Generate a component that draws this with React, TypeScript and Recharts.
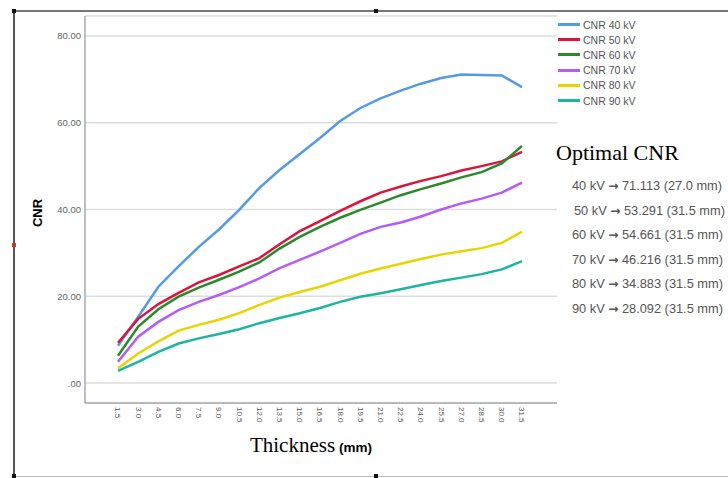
import React from 'react';
import { LineChart, Line, XAxis, YAxis, CartesianGrid } from 'recharts';

const thickness = [1.5, 3.0, 4.5, 6.0, 7.5, 9.0, 10.5, 12.0, 13.5, 15.0, 16.5, 18.0, 19.5, 21.0, 22.5, 24.0, 25.5, 27.0, 28.5, 30.0, 31.5];

const cnr40 = [8.6, 15.3, 22.2, 26.9, 31.4, 35.4, 39.9, 45.0, 49.1, 52.8, 56.5, 60.4, 63.4, 65.6, 67.4, 69.0, 70.3, 71.113, 71.0, 70.9, 68.2];
const cnr50 = [9.3, 14.8, 18.2, 20.8, 23.2, 24.9, 26.9, 28.8, 32.0, 35.0, 37.3, 39.7, 41.9, 43.9, 45.3, 46.6, 47.7, 49.0, 50.0, 51.1, 53.291];
const cnr60 = [6.3, 13.0, 17.0, 19.9, 22.0, 23.8, 25.7, 27.8, 31.0, 33.7, 36.0, 38.1, 39.9, 41.6, 43.3, 44.7, 46.0, 47.4, 48.6, 50.6, 54.661];
const cnr70 = [4.9, 10.7, 14.1, 16.8, 18.7, 20.3, 22.1, 24.1, 26.5, 28.4, 30.3, 32.3, 34.4, 36.0, 37.0, 38.4, 40.0, 41.4, 42.5, 43.9, 46.216];
const cnr80 = [3.4, 6.8, 9.6, 12.1, 13.4, 14.6, 16.1, 18.0, 19.7, 21.0, 22.2, 23.7, 25.2, 26.4, 27.5, 28.6, 29.6, 30.4, 31.1, 32.3, 34.883];
const cnr90 = [2.8, 4.9, 7.2, 9.1, 10.3, 11.3, 12.4, 13.8, 15.0, 16.1, 17.3, 18.7, 19.9, 20.7, 21.6, 22.6, 23.5, 24.3, 25.1, 26.2, 28.092];

const yTicks = [0, 20, 40, 60, 80];

const seriesNames = ['CNR 40 kV', 'CNR 50 kV', 'CNR 60 kV', 'CNR 70 kV', 'CNR 80 kV', 'CNR 90 kV'];
const seriesKeys = ['kv40', 'kv50', 'kv60', 'kv70', 'kv80', 'kv90'];
const seriesColors = ['#5599E8', '#DC143C', '#2A8A2A', '#B45CFA', '#E8D400', '#1CB5A3'];
const seriesValues = [cnr40, cnr50, cnr60, cnr70, cnr80, cnr90];

const optimalTitle = 'Optimal CNR';
const optimalKv = ['40 kV', '50 kV', '60 kV', '70 kV', '80 kV', '90 kV'];
const optimalCnr = ['71.113', '53.291', '54.661', '46.216', '34.883', '28.092'];
const optimalThickness = ['27.0', '31.5', '31.5', '31.5', '31.5', '31.5'];

const data = thickness.map((t, i) => {
  const row: any = { t };
  seriesKeys.forEach((k, s) => {
    row[k] = seriesValues[s][i];
  });
  return row;
});

const SANS = '"Liberation Sans", Arial, sans-serif';
const SERIF = '"Liberation Serif", "Times New Roman", serif';

const XTick = (props: any) => {
  const { x, payload } = props;
  const yy = 407;
  return (
    <text
      x={x}
      y={yy}
      transform={`rotate(90 ${x} ${yy})`}
      textAnchor="start"
      dominantBaseline="central"
      fontSize={8}
      fill="#555"
      fontFamily={SANS}
    >
      {Number(payload.value).toFixed(1)}
    </text>
  );
};

const YTick = (props: any) => {
  const { y, payload } = props;
  const v = Number(payload.value);
  const label = v === 0 ? '.00' : v.toFixed(2);
  return (
    <text x={81} y={y} textAnchor="end" dominantBaseline="central" fontSize={9.5} fill="#666" fontFamily={SANS}>
      {label}
    </text>
  );
};

const handle = (x: number, y: number, color = '#111') => (
  <div style={{ position: 'absolute', left: x - 2, top: y - 2, width: 4, height: 4, background: color }} />
);

export default function App() {
  return (
    <div style={{ position: 'absolute', left: 0, top: 0, width: 728, height: 478, background: '#fff', overflow: 'hidden' }}>
      {/* frame */}
      <div style={{ position: 'absolute', left: 13, top: 10, width: 715, height: 1.5, background: '#777' }} />
      <div style={{ position: 'absolute', left: 13, top: 10, width: 1.5, height: 468, background: '#555' }} />
      <div style={{ position: 'absolute', left: 13, top: 476, width: 715, height: 1, background: '#bbb' }} />
      {handle(14, 11)}
      {handle(376, 11)}
      {handle(14, 245, '#c0392b')}
      {handle(14, 476)}
      {handle(376, 476)}

      <LineChart
        width={728}
        height={478}
        data={data}
        margin={{ top: 16, right: 171, bottom: 0, left: 25 }}
        style={{ position: 'absolute', left: 0, top: 0 }}
      >
        <CartesianGrid horizontal={true} vertical={false} stroke="#DDDDDD" strokeWidth={1.5} />
        <XAxis
          dataKey="t"
          type="number"
          domain={[-0.95, 34.1]}
          ticks={thickness}
          interval={0}
          tickLine={false}
          tickSize={0}
          tickMargin={4}
          axisLine={{ stroke: '#AAAAAA', strokeWidth: 1.5 }}
          height={75}
          tick={<XTick />}
          label={{
            content: () => (
              <text x={311} y={452} textAnchor="middle" fill="#000">
                <tspan fontFamily={SERIF} fontSize={21}>Thickness</tspan>
                <tspan fontFamily={SANS} fontSize={13.5} fontWeight="bold" dx={4}>(mm)</tspan>
              </text>
            ),
          }}
        />
        <YAxis
          type="number"
          domain={[-4.6, 84.6]}
          ticks={yTicks}
          interval={0}
          width={60}
          tickLine={false}
          tickSize={0}
          tickMargin={4}
          axisLine={{ stroke: '#AAAAAA', strokeWidth: 1.5 }}
          tick={<YTick />}
          label={{
            content: () => (
              <text
                x={37}
                y={213}
                transform="rotate(-90 37 213)"
                textAnchor="middle"
                dominantBaseline="central"
                fontSize={13}
                fontWeight="bold"
                fontFamily={SANS}
                fill="#000"
              >
                CNR
              </text>
            ),
          }}
        />
        {seriesKeys.map((k, s) => (
          <Line
            key={k}
            type="linear"
            dataKey={k}
            name={seriesNames[s]}
            stroke={seriesColors[s]}
            strokeWidth={2.5}
            dot={false}
            activeDot={false}
            isAnimationActive={false}
          />
        ))}
      </LineChart>

      {/* legend */}
      <div style={{ position: 'absolute', left: 0, top: 0 }}>
        {seriesNames.map((n, s) => (
          <div key={n} style={{ position: 'absolute', left: 558, top: 17.5 + s * 15.2, height: 14, width: 120, whiteSpace: 'nowrap' }}>
            <div style={{ position: 'absolute', left: 0, top: 5.5, width: 22, height: 3, background: seriesColors[s] }} />
            <div style={{ position: 'absolute', left: 25, top: 0, fontFamily: SANS, fontSize: 10.5, lineHeight: '14px', color: '#555' }}>{n}</div>
          </div>
        ))}
      </div>

      {/* annotation */}
      <div style={{ position: 'absolute', left: 556, top: 140, fontFamily: SERIF, fontSize: 22, lineHeight: '26px', color: '#000', whiteSpace: 'nowrap' }}>
        {optimalTitle}
      </div>
      {optimalKv.map((kv, i) => (
        <div
          key={kv}
          style={{ position: 'absolute', left: i === 1 ? 574 : 572, top: 178 + i * 24.6, fontFamily: SANS, fontSize: 12.8, lineHeight: '16px', color: '#555', whiteSpace: 'nowrap' }}
        >
          {kv}{' '}
          <span style={{ fontFamily: '"DejaVu Sans", sans-serif', fontSize: 12, fontWeight: 'bold' }}>{'\u2192'}</span>
          {' '}{optimalCnr[i]} ({optimalThickness[i]} mm)
        </div>
      ))}
    </div>
  );
}
